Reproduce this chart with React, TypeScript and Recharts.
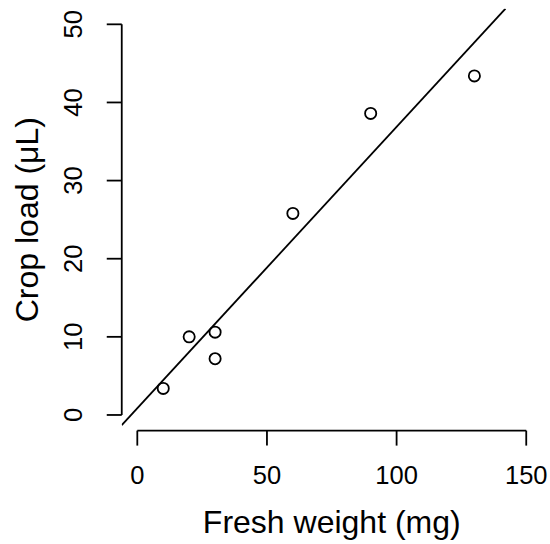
import React from 'react';
import {
  ComposedChart,
  Scatter,
  Line,
  XAxis,
  YAxis,
  ReferenceLine,
  Label,
} from 'recharts';

const freshWeight = [10, 20, 30, 30, 60, 90, 130];
const cropLoad = [3.4, 10.0, 10.6, 7.2, 25.8, 38.6, 43.4];

// least-squares line, end points where it leaves the plot region
const fitX = [-6, 142];
const fitY = [-1.3, 52];

const xTicks = [0, 50, 100, 150];
const yTicks = [0, 10, 20, 30, 40, 50];

const points = freshWeight.map((x, i) => ({ x, y: cropLoad[i] }));
const fitLine = fitX.map((x, i) => ({ x, y: fitY[i] }));

const FONT = '"Liberation Sans", Arial, Helvetica, sans-serif';
const INK = '#000';

const renderXTick = (props: any) => {
  const { x, y, payload } = props;
  return (
    <text x={x} y={y + 38.7} textAnchor="middle" fontSize={25.5} fontFamily={FONT} fill={INK}>
      {payload.value}
    </text>
  );
};

const renderYTick = (props: any) => {
  const { x, y, payload } = props;
  return (
    <text
      transform={`translate(${x - 25},${y}) rotate(-90)`}
      textAnchor="middle"
      fontSize={25.5}
      fontFamily={FONT}
      fill={INK}
    >
      {payload.value}
    </text>
  );
};

const renderCircle = (props: any) => (
  <circle cx={props.cx} cy={props.cy} r={5.6} fill="none" stroke={INK} strokeWidth={1.8} />
);

export default function App() {
  return (
    <div style={{ position: 'absolute', left: 0, top: 0, background: '#fff' }}>
      <ComposedChart
        width={550}
        height={544}
        margin={{ top: 8.7, right: 8.2, left: 0, bottom: 0 }}
      >
        <XAxis
          dataKey="x"
          type="number"
          domain={[-6, 156]}
          allowDataOverflow
          ticks={xTicks}
          interval={0}
          height={113.4}
          axisLine={false}
          stroke={INK}
          tickLine={{ stroke: INK, strokeWidth: 1.8 }}
          tickSize={15}
          tickMargin={0}
          tick={renderXTick}
        >
          <Label
            content={(p: any) => {
              const vb = p.viewBox;
              return (
                <text x={vb.x + vb.width / 2} y={vb.y + 102} textAnchor="middle" fontSize={32} fontFamily={FONT} fill={INK}>
                  Fresh weight (mg)
                </text>
              );
            }}
          />
        </XAxis>
        <YAxis
          dataKey="y"
          type="number"
          domain={[-2, 52]}
          allowDataOverflow
          ticks={yTicks}
          interval={0}
          width={121.75}
          axisLine={false}
          stroke={INK}
          tickLine={{ stroke: INK, strokeWidth: 1.8 }}
          tickSize={15}
          tickMargin={0}
          tick={renderYTick}
        >
          <Label
            content={(p: any) => {
              const vb = p.viewBox;
              return (
                <text
                  transform={`translate(38.3,${vb.y + vb.height / 2}) rotate(-90)`}
                  textAnchor="middle"
                  fontSize={32}
                  fontFamily={FONT}
                  fill={INK}
                >
                  Crop load (μL)
                </text>
              );
            }}
          />
        </YAxis>
        {/* R-style axis lines: only from first to last tick */}
        <ReferenceLine
          segment={[{ x: 0, y: -2 }, { x: 150, y: -2 }]}
          stroke={INK}
          strokeWidth={1.8}
          ifOverflow="visible"
        />
        <ReferenceLine
          segment={[{ x: -6, y: 0 }, { x: -6, y: 50 }]}
          stroke={INK}
          strokeWidth={1.8}
          ifOverflow="visible"
        />
        <Line
          data={fitLine}
          dataKey="y"
          type="linear"
          stroke={INK}
          strokeWidth={1.8}
          dot={false}
          activeDot={false}
          isAnimationActive={false}
        />
        <Scatter data={points} dataKey="y" shape={renderCircle} isAnimationActive={false} />
      </ComposedChart>
    </div>
  );
}
